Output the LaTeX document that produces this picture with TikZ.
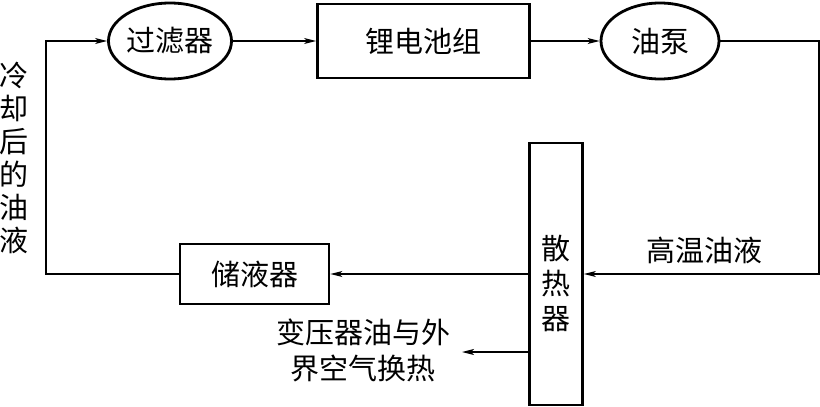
\documentclass[tikz,border=0pt]{standalone}
\usepackage{fontspec}
\setmainfont{Noto Sans CJK SC}
\usetikzlibrary{arrows.meta,shapes.geometric}
\begin{document}
\begin{tikzpicture}[x=1pt,y=-1pt,
  box/.style={draw, line width=2.8pt, inner sep=0pt},
  ell/.style={ellipse, draw, line width=2.8pt, minimum width=118pt, minimum height=76pt, inner sep=0pt},
  flow/.style={line width=1.4pt, -{Stealth[length=12pt,width=6pt,inset=3pt]}},
  lbl/.style={font=\fontsize{29}{33}\selectfont, inner sep=0pt}]
\useasboundingbox (0,0) rectangle (820,407);
\node[ell,lbl] (filter) at (170,41) {过滤器};
\node[box,lbl,minimum width=212pt,minimum height=74pt] (batt) at (423.5,41) {锂电池组};
\node[ell,lbl] (pump) at (660,41) {油泵};
\node[box,minimum width=53pt,minimum height=262pt] (rad) at (556,274) {};
\node[lbl,align=center,font=\fontsize{29}{35}\selectfont] (radlbl) at (556,283) {散\\热\\器};
\node[box,lbl,minimum width=149pt,minimum height=60pt] (recv) at (254.5,274) {储液器};
\coordinate (tr) at (819,41);
\coordinate (br) at (819,274);
\coordinate (tl) at (46,41);
\coordinate (bl) at (46,274);
\coordinate (out) at (462,352);
\draw[flow] (recv.west) -- (bl) -- (tl) -- (filter.west);
\draw[flow] (filter.east) -- (batt.west);
\draw[flow] (batt.east) -- (pump.west);
\draw[flow] (pump.east) -- (tr) -- (br) -- (rad.east);
\draw[flow] (rad.west) -- (recv.east);
\draw[flow] (rad.west |- out) -- (out);
\node[lbl] (hot) at (704,250) {高温油液};
\node[lbl,align=center,font=\fontsize{29}{36}\selectfont] (ex) at (363,350) {变压器油与外\\界空气换热};
\node[lbl,align=center] (cool) at (14,158) {冷\\却\\后\\的\\油\\液};
\end{tikzpicture}
\end{document}
